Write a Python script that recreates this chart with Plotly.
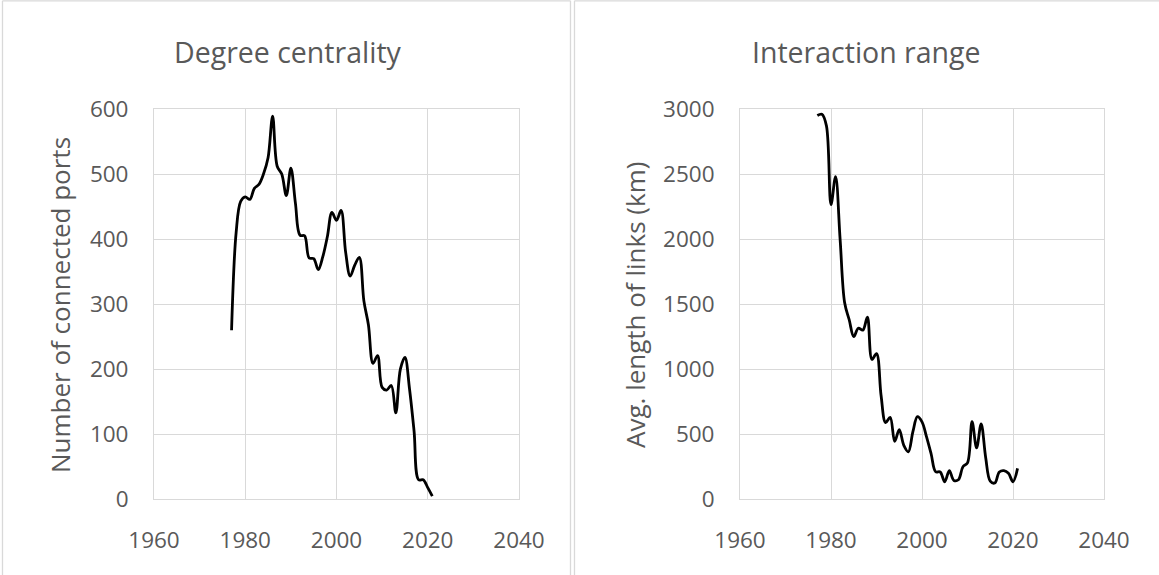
import plotly.graph_objects as go

years = list(range(1977, 2022))

connected_ports = [260, 410, 458, 465, 461, 478, 484, 500, 525, 589,
                   512, 500, 467, 509, 455, 406, 405, 371, 370, 353,
                   373, 404, 441, 429, 444, 380, 343, 360, 372, 305,
                   268, 209, 221, 172, 168, 175, 133, 200, 218, 170,
                   105, 30, 30, 18, 5]

avg_link_km = [2950, 2960, 2870, 2265, 2480, 2000, 1510, 1380, 1250, 1315,
               1300, 1400, 1075, 1120, 800, 590, 630, 445, 535, 415,
               365, 520, 635, 595, 480, 350, 212, 210, 135, 220,
               145, 150, 250, 280, 597, 395, 580, 320, 140, 125,
               210, 220, 200, 135, 238]

x_ticks = [1960, 1980, 2000, 2020, 2040]
left_y_ticks = [0, 100, 200, 300, 400, 500, 600]
right_y_ticks = [0, 500, 1000, 1500, 2000, 2500, 3000]

titles = ["Degree centrality", "Interaction range"]
y_titles = ["Number of connected ports", "Avg. length of links (km)"]

W, H = 1159, 575
FONT = "Open Sans"
GRAY = "#595959"
GRID = "#d9d9d9"

fig = go.Figure()
fig.add_trace(go.Scatter(x=years, y=connected_ports, mode="lines",
                         line=dict(color="black", width=2.8, shape="spline", smoothing=1),
                         xaxis="x", yaxis="y", showlegend=False, hoverinfo="skip"))
fig.add_trace(go.Scatter(x=years, y=avg_link_km, mode="lines",
                         line=dict(color="black", width=2.8, shape="spline", smoothing=1),
                         xaxis="x2", yaxis="y2", showlegend=False, hoverinfo="skip"))

ydom = [(H - 499.3) / H, (H - 109) / H]
common_x = dict(range=[1960, 2040], tickvals=x_ticks, showgrid=True, gridcolor=GRID,
                gridwidth=1, showline=True, linecolor=GRID, linewidth=1, mirror=True,
                zeroline=False, ticks="", ticklabelstandoff=21, automargin=False,
                tickfont=dict(family=FONT, size=22.5, color=GRAY), fixedrange=True)
common_y = dict(showgrid=True, gridcolor=GRID, gridwidth=1, showline=True,
                linecolor=GRID, linewidth=1, mirror=True, zeroline=False, ticks="",
                ticklabelstandoff=20, automargin=False,
                tickfont=dict(family=FONT, size=22.5, color=GRAY), fixedrange=True)


def vline(xpx, top=0.8):
    return dict(type="line", xref="paper", yref="paper", x0=xpx / W, x1=xpx / W,
                y0=0, y1=1 - top / H, line=dict(color=GRID, width=1.3))


def hline(x0px, x1px, ypx=0.8):
    return dict(type="line", xref="paper", yref="paper", x0=x0px / W, x1=x1px / W,
                y0=1 - ypx / H, y1=1 - ypx / H, line=dict(color=GRID, width=1.3))


fig.update_layout(
    width=W, height=H, margin=dict(l=0, r=0, t=0, b=0, pad=0), autosize=False,
    paper_bgcolor="white", plot_bgcolor="white",
    xaxis=dict(domain=[154 / W, 519 / W], anchor="y", **common_x),
    yaxis=dict(domain=ydom, anchor="x", range=[0, 600], tickvals=left_y_ticks, **common_y),
    xaxis2=dict(domain=[740 / W, 1104 / W], anchor="y2", **common_x),
    yaxis2=dict(domain=ydom, anchor="x2", range=[0, 3000], tickvals=right_y_ticks, **common_y),
    shapes=[vline(2.5), vline(570.5), hline(2.5, 570.5), vline(574.5), hline(574.5, W)],
    annotations=[
        dict(text=titles[0], x=288 / W, y=1 - 52 / H, xref="paper", yref="paper",
             xanchor="center", yanchor="middle", showarrow=False,
             font=dict(family=FONT, size=28.5, color=GRAY)),
        dict(text=titles[1], x=866 / W, y=1 - 52 / H, xref="paper", yref="paper",
             xanchor="center", yanchor="middle", showarrow=False,
             font=dict(family=FONT, size=28.5, color=GRAY)),
        dict(text=y_titles[0], x=60 / W, y=1 - 305 / H, xref="paper", yref="paper",
             xanchor="center", yanchor="middle", showarrow=False, textangle=-90,
             font=dict(family=FONT, size=26, color=GRAY)),
        dict(text=y_titles[1], x=635 / W, y=1 - 305 / H, xref="paper", yref="paper",
             xanchor="center", yanchor="middle", showarrow=False, textangle=-90,
             font=dict(family=FONT, size=26, color=GRAY)),
    ],
)

fig.write_html("out.html", config={"displayModeBar": False},
               post_script="document.body.style.margin='0';document.body.style.overflow='hidden';")
